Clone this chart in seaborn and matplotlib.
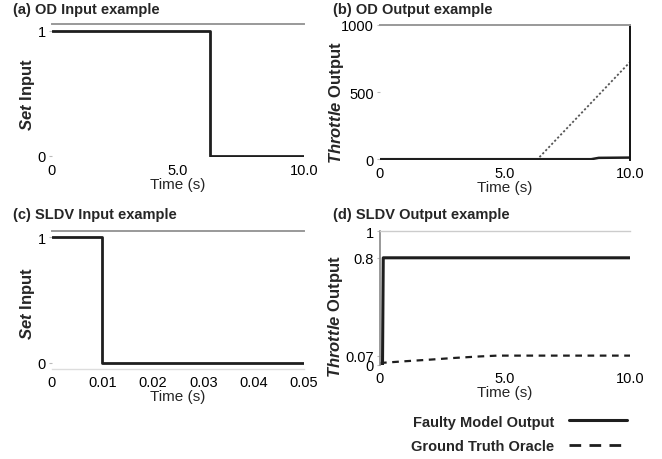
import numpy as np
import pandas as pd
import matplotlib
matplotlib.use("Agg")
import matplotlib.pyplot as plt
import seaborn as sns

# ---------------- data ----------------
od_in_t = [0.0, 6.25, 10.0]
od_in_v = [1.0, 0.0, 0.0]

od_out_faulty_t = [0.0, 8.45, 8.75, 10.0]
od_out_faulty_v = [0.0, 0.0, 10.0, 12.0]
od_out_truth_t = [0.0, 6.3, 10.0]
od_out_truth_v = [0.0, 0.0, 724.0]

sldv_in_t = [0.0, 0.01, 0.05]
sldv_in_v = [1.0, 0.0, 0.0]

sldv_out_faulty_t = [0.0, 0.1, 0.13, 10.0]
sldv_out_faulty_v = [0.0, 0.0, 0.8, 0.8]
sldv_out_truth_t = [0.0, 1.0, 2.0, 3.0, 4.0, 4.7, 10.0]
sldv_out_truth_v = [0.015, 0.028, 0.040, 0.053, 0.064, 0.070, 0.070]

ticks_time10 = [0, 5, 10]
ticks_time10_lbl = ["0", "5.0", "10.0"]
ticks_sldv_t = [0, 0.01, 0.02, 0.03, 0.04, 0.05]
ticks_sldv_t_lbl = ["0", "0.01", "0.02", "0.03", "0.04", "0.05"]
ticks_set = [0, 1]
ticks_od_out = [0, 500, 1000]
ticks_sldv_out = [0, 0.07, 0.8, 1]
ticks_sldv_out_lbl = ["0", "0.07", "0.8", "1"]

titles = ["(a) OD Input example", "(b) OD Output example",
          "(c) SLDV Input example", "(d) SLDV Output example"]
legend_labels = ["Faulty Model Output", "Ground Truth Oracle"]

# ---------------- style ----------------
sns.set_theme(style="white")
plt.rcParams["font.family"] = ["Liberation Sans", "DejaVu Sans"]
plt.rcParams["mathtext.fontset"] = "custom"
plt.rcParams["mathtext.rm"] = "Liberation Sans"
plt.rcParams["mathtext.it"] = "Liberation Sans:italic"
plt.rcParams["mathtext.bf"] = "Liberation Sans:bold"
plt.rcParams["mathtext.bfit"] = "Liberation Sans:italic:bold"

W, H = 662, 460
fig = plt.figure(figsize=(W / 100, H / 100), dpi=100)


def axes_px(l, t, r, b):
    return fig.add_axes([l / W, 1 - b / H, (r - l) / W, (b - t) / H])


LINE = "#1e1e1e"
FS = 10.5
LFS = 12

ax_a = axes_px(52, 25, 304, 158)
ax_b = axes_px(380, 26, 630, 161)
ax_c = axes_px(52, 232, 304, 370)
ax_d = axes_px(380, 232, 630, 366)

# (a)
sns.lineplot(x=od_in_t, y=od_in_v, ax=ax_a, color=LINE, lw=2.0,
             drawstyle="steps-post", estimator=None, sort=False)
ax_a.set_xlim(0, 10)
ax_a.set_ylim(-0.01, 1.055)

# (b)
sns.lineplot(x=od_out_truth_t, y=od_out_truth_v, ax=ax_b, color="#555555",
             lw=1.3, linestyle=(0, (1.2, 1.2)), estimator=None, sort=False)
sns.lineplot(x=od_out_faulty_t, y=od_out_faulty_v, ax=ax_b, color=LINE,
             lw=1.8, estimator=None, sort=False)
ax_b.set_xlim(0, 10)
ax_b.set_ylim(-6, 1000)

# (c)
sns.lineplot(x=sldv_in_t, y=sldv_in_v, ax=ax_c, color=LINE, lw=2.0,
             drawstyle="steps-post", estimator=None, sort=False)
ax_c.set_xlim(0, 0.05)
ax_c.set_ylim(-0.05, 1.05)

# (d)
sns.lineplot(x=sldv_out_faulty_t, y=sldv_out_faulty_v, ax=ax_d, color=LINE,
             lw=2.2, estimator=None, sort=False, label=legend_labels[0])
sns.lineplot(x=sldv_out_truth_t, y=sldv_out_truth_v, ax=ax_d, color=LINE,
             lw=1.6, linestyle=(0, (3, 2.5)), estimator=None, sort=False,
             label=legend_labels[1])
ax_d.set_xlim(0, 10)
ax_d.set_ylim(0, 1)

# ticks
for ax in (ax_a, ax_b, ax_d):
    ax.set_xticks(ticks_time10)
    ax.set_xticklabels(ticks_time10_lbl)
ax_c.set_xticks(ticks_sldv_t)
ax_c.set_xticklabels(ticks_sldv_t_lbl)
ax_a.set_yticks(ticks_set)
ax_c.set_yticks(ticks_set)
ax_b.set_yticks(ticks_od_out)
ax_d.set_yticks(ticks_sldv_out)
ax_d.set_yticklabels(ticks_sldv_out_lbl)

for ax in (ax_a, ax_b, ax_c, ax_d):
    ax.tick_params(axis="both", labelsize=FS, colors="#000000", length=2.5,
                   width=0.8, pad=2, left=True, bottom=False)
    ax.tick_params(axis="y", color="#bbbbbb")
    ax.set_xlabel("Time (s)", fontsize=FS + 0.5, labelpad=0)
    for s in ax.spines.values():
        s.set_visible(False)
    ax.spines["top"].set_visible(True)
    ax.spines["top"].set_color("#999999")
    ax.spines["top"].set_linewidth(1.4)

ax_b.spines["right"].set_visible(True)
ax_b.spines["right"].set_color("#111111")
ax_b.spines["right"].set_linewidth(1.4)
ax_c.spines["bottom"].set_visible(True)
ax_c.spines["bottom"].set_color("#dddddd")
ax_c.spines["bottom"].set_linewidth(1.0)
ax_d.spines["left"].set_visible(True)
ax_d.spines["left"].set_color("#888888")
ax_d.spines["left"].set_linewidth(1.2)
ax_d.spines["top"].set_color("#cccccc")
ax_d.spines["top"].set_linewidth(1.0)

ax_a.set_ylabel(r"$\mathbfit{Set}$ Input", fontsize=LFS, fontweight="bold")
ax_c.set_ylabel(r"$\mathbfit{Set}$ Input", fontsize=LFS, fontweight="bold")
ax_b.set_ylabel(r"$\mathbfit{Throttle}$ Output", fontsize=LFS, fontweight="bold")
ax_d.set_ylabel(r"$\mathbfit{Throttle}$ Output", fontsize=LFS, fontweight="bold")
ax_a.yaxis.set_label_coords(-15 / 252, 0.48)
ax_c.yaxis.set_label_coords(-15 / 252, 0.48)
ax_b.yaxis.set_label_coords(-34 / 250, 0.43)
ax_d.yaxis.set_label_coords(-35 / 250, 0.37)

# titles
title_pos = [(13, 10), (333, 10), (13, 215), (333, 215)]
for (x, y), t in zip(title_pos, titles):
    fig.text(x / W, 1 - y / H, t, fontsize=10.5, fontweight="bold",
             ha="left", va="center")

# legend
handles, labels = ax_d.get_legend_handles_labels()
ax_d.get_legend().remove()
leg = fig.legend(handles, labels, loc="center right",
                 bbox_to_anchor=(640 / W, 1 - 435 / H), frameon=False,
                 markerfirst=False, handlelength=4.0, handletextpad=1.0,
                 labelspacing=0.75, prop={"size": 10.5, "weight": "bold"})
leg_lines = leg.get_lines()
leg_lines[0].set_linewidth(2.2)
leg_lines[1].set_linewidth(2.0)
leg_lines[1].set_dashes((4.2, 3.0))

fig.savefig("out.png", dpi=100)
